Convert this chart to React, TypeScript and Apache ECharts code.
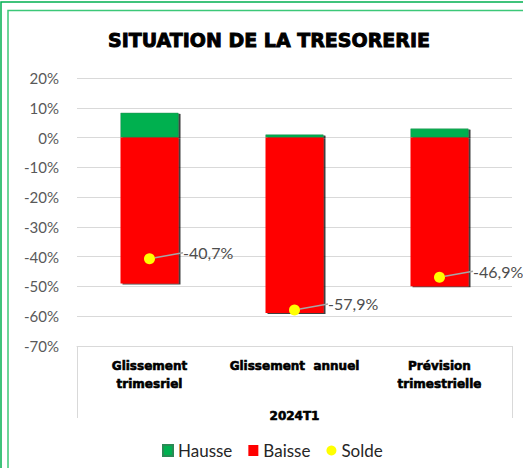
import React, { useEffect, useRef } from "react";
import * as echarts from "echarts";

const categories = ["Glissement\ntrimesriel", "Glissement  annuel", "Prévision\ntrimestrielle"];
const hausse = [8.3, 1.0, 3.0];
const baisse = [-49.0, -58.9, -49.9];
const solde = [-40.7, -57.9, -46.9];
const axisName = "2024T1";
const title = "SITUATION DE LA TRESORERIE";

const HEAVY = "'DejaVu Sans', sans-serif";
const LIGHT = "Lato, 'Open Sans', sans-serif";

export default function App() {
  const ref = useRef<HTMLDivElement>(null);
  useEffect(() => {
    document.body.style.margin = "0";
    const chart = echarts.init(ref.current!, null, { renderer: "svg" });
    chart.setOption({
      animation: false,
      backgroundColor: "#ffffff",
      title: {
        text: title,
        left: 103,
        top: 25,
        textStyle: {
          fontFamily: HEAVY,
          fontWeight: "bold",
          fontSize: 19,
          color: "#000",
          textBorderColor: "#000",
          textBorderWidth: 0.9,
        },
      },
      grid: { left: 77, right: 11, top: 78, bottom: 122, containLabel: false },
      legend: {
        left: 157,
        top: 437,
        itemWidth: 10,
        itemHeight: 11,
        itemGap: 16,
        textStyle: { fontFamily: LIGHT, fontSize: 17, color: "#262626" },
        data: [
          { name: "Hausse", icon: "rect" },
          { name: "Baisse", icon: "rect" },
          { name: "Solde", icon: "circle" },
        ],
      },
      xAxis: {
        type: "category",
        data: categories,
        axisLine: { show: true, onZero: false, lineStyle: { color: "#d9d9d9", width: 1 } },
        axisTick: { show: false },
        axisLabel: {
          margin: 11,
          fontFamily: HEAVY,
          fontWeight: "bold",
          fontSize: 12,
          lineHeight: 18,
          color: "#000",
          textBorderColor: "#000",
          textBorderWidth: 0.6,
          interval: 0,
        },
        name: axisName,
        nameLocation: "middle",
        nameGap: 64,
        nameTextStyle: {
          fontFamily: HEAVY,
          fontWeight: "bold",
          fontSize: 12,
          color: "#000",
          textBorderColor: "#000",
          textBorderWidth: 0.6,
        },
      },
      yAxis: {
        type: "value",
        min: -70,
        max: 20,
        interval: 10,
        axisLine: { show: false },
        axisTick: { show: false },
        splitLine: { lineStyle: { color: "#d9d9d9", width: 1 } },
        axisLabel: {
          formatter: "{value}%",
          margin: 18,
          fontFamily: LIGHT,
          fontSize: 15,
          color: "#595959",
        },
      },
      graphic: [
        { type: "rect", shape: { x: 1, y: 2, width: 600, height: 600 }, style: { fill: "none", stroke: "#00B050", lineWidth: 1.5 }, silent: true },
        { type: "rect", shape: { x: 8, y: 10.5, width: 600, height: 600 }, style: { fill: "none", stroke: "#3CC878", lineWidth: 1.5 }, silent: true },
        { type: "line", shape: { x1: 77.5, y1: 346, x2: 77.5, y2: 418 }, style: { stroke: "#d9d9d9", lineWidth: 1 }, silent: true },
        { type: "line", shape: { x1: 512.5, y1: 346, x2: 512.5, y2: 418 }, style: { stroke: "#d9d9d9", lineWidth: 1 }, silent: true },
      ],
      series: [
        {
          name: "Hausse",
          type: "bar",
          stack: "t",
          barWidth: "40%",
          data: hausse,
          itemStyle: {
            color: "#00B050",
            borderColor: "#2a8a55",
            borderWidth: 0.5,
            shadowColor: "rgba(0,0,0,0.75)",
            shadowOffsetX: 2,
            shadowOffsetY: 1,
            shadowBlur: 1,
          },
        },
        {
          name: "Baisse",
          type: "bar",
          stack: "t",
          barWidth: "40%",
          data: baisse,
          itemStyle: {
            color: "#FF0000",
            shadowColor: "rgba(0,0,0,0.75)",
            shadowOffsetX: 2,
            shadowOffsetY: 1,
            shadowBlur: 1,
          },
        },
        {
          name: "Solde",
          type: "scatter",
          data: solde,
          symbol: "circle",
          symbolSize: 11,
          z: 5,
          itemStyle: { color: "#FFFF00", opacity: 1 },
          label: {
            show: true,
            position: "right",
            distance: 5,
            padding: [0, 0, 0, 5],
            fontFamily: LIGHT,
            fontSize: 16,
            color: "#4d4d4d",
            formatter: (p: any) => p.value.toFixed(1).replace(".", ",") + "%",
          },
          labelLayout: { dx: 18, dy: -6 },
          labelLine: { show: true, lineStyle: { color: "#a6a6a6", width: 1.5 } },
        },
      ],
    });
    return () => chart.dispose();
  }, []);
  return <div ref={ref} style={{ width: 523, height: 468 }} />;
}
